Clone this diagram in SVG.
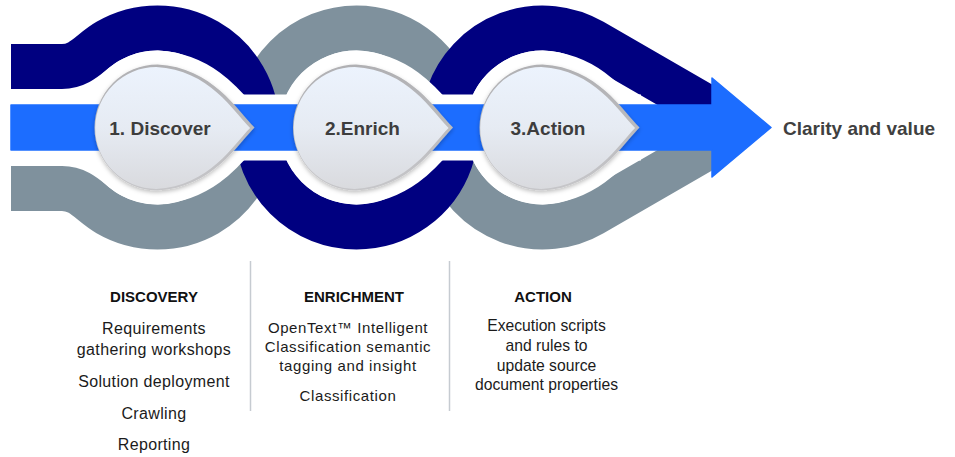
<svg xmlns="http://www.w3.org/2000/svg" xmlns:xlink="http://www.w3.org/1999/xlink" width="955" height="457" viewBox="0 0 955 457">
  <defs>
    <style>
      .navy { fill: none; stroke: #000080; stroke-width: 45; }
      .grey { fill: none; stroke: #7f919d; stroke-width: 45; }
      .halo { fill: #ffffff; stroke: #ffffff; stroke-width: 28; stroke-linejoin: round; }
      .rim { fill: url(#rimGrad); filter: url(#shadow); }
      .face { fill: url(#faceGrad); }
      .step { font-family: "Liberation Sans", Arial, sans-serif; font-weight: bold; font-size: 19px; fill: #3d3d3d; text-anchor: middle; }
      .goal { font-family: "Liberation Sans", Arial, sans-serif; font-weight: bold; font-size: 19px; fill: #404040; }
      .head { font-family: "Liberation Sans", Arial, sans-serif; font-weight: bold; font-size: 15px; fill: #111111; text-anchor: middle; }
      .body1 { font-family: "Liberation Sans", Arial, sans-serif; font-size: 16px; letter-spacing: 0.35px; fill: #1b1b1b; text-anchor: middle; }
      .body2 { font-family: "Liberation Sans", Arial, sans-serif; font-size: 15px; letter-spacing: 0.6px; fill: #1b1b1b; text-anchor: middle; }
      .body3 { font-family: "Liberation Sans", Arial, sans-serif; font-size: 15.7px; fill: #1b1b1b; text-anchor: middle; }
      .sep { stroke: #c6cbd1; stroke-width: 1.5; }
    </style>
    <linearGradient id="rimGrad" x1="0" y1="0" x2="0" y2="1">
      <stop offset="0" stop-color="#b0b0b3"/>
      <stop offset="1" stop-color="#c6c6c9"/>
    </linearGradient>
    <linearGradient id="faceGrad" x1="0" y1="0" x2="0" y2="1">
      <stop offset="0" stop-color="#ecf3fd"/>
      <stop offset="0.5" stop-color="#e6ebf3"/>
      <stop offset="1" stop-color="#d9dade"/>
    </linearGradient>
    <filter id="shadow" x="-20%" y="-20%" width="140%" height="150%">
      <feDropShadow dx="0" dy="2" stdDeviation="2" flood-color="#000000" flood-opacity="0.25"/>
    </filter>
    <path id="drop" d="M 97,0 C 80,-17 55,-60 0,-63 A 63 63 0 0 0 -63,0 A 63 63 0 0 0 0,63 C 55,60 80,17 97,0 Z"/>
  </defs>

  <rect x="0" y="0" width="955" height="457" fill="#ffffff"/>

  <g id="ribbons">
    <path class="grey" d="M 11,188.5 H 62 C 82,188.5 90.4,203.7 107.75,213.67 A 99.5 99.5 0 0 0 257,127.5 A 99.5 99.5 0 0 1 356.5,28 A 99.5 99.5 0 0 1 450.37,94.5 C 457,113.4 442,141.6 448.63,160.5 A 99.5 99.5 0 0 0 592.25,213.67 L 716,142.2"/>
    <path class="navy" d="M 11,66.5 H 62 C 82,66.5 90.4,51.3 107.75,41.33 A 99.5 99.5 0 0 1 257,127.5 A 99.5 99.5 0 0 0 356.5,227 A 99.5 99.5 0 0 0 450.37,160.5 C 457,141.6 442,113.4 448.63,94.5 A 99.5 99.5 0 0 1 592.25,41.33 L 716,112.8"/>
  </g>

  <g id="halos">
    <use xlink:href="#drop" href="#drop" class="halo" transform="translate(157.5,127.5)"/>
    <use xlink:href="#drop" href="#drop" class="halo" transform="translate(356,127.5)"/>
    <use xlink:href="#drop" href="#drop" class="halo" transform="translate(542.5,127.5)"/>
    <rect x="11" y="94.5" width="630" height="66" fill="#ffffff"/>
  </g>

  <g id="connectors">
    <path id="flow-arrow" d="M 11,105 H 712 V 78 L 771,127.5 L 712,177 V 150 H 11 Z" fill="#1c6dff" stroke="#1c6dff" stroke-width="1.5" stroke-linejoin="round"/>
    <line class="sep" x1="250.5" y1="261" x2="250.5" y2="411"/>
    <line class="sep" x1="449.5" y1="261" x2="449.5" y2="411"/>
  </g>

  <g id="step-discover">
    <use xlink:href="#drop" href="#drop" class="rim" transform="translate(157.5,127.5)"/>
    <use xlink:href="#drop" href="#drop" class="face" transform="translate(156.2,128) scale(0.968)"/>
    <text class="step" x="160" y="135">1. Discover</text>
  </g>

  <g id="step-enrich">
    <use xlink:href="#drop" href="#drop" class="rim" transform="translate(356,127.5)"/>
    <use xlink:href="#drop" href="#drop" class="face" transform="translate(354.7,128) scale(0.968)"/>
    <text class="step" x="362.5" y="135">2.Enrich</text>
  </g>

  <g id="step-action">
    <use xlink:href="#drop" href="#drop" class="rim" transform="translate(542.5,127.5)"/>
    <use xlink:href="#drop" href="#drop" class="face" transform="translate(541.2,128) scale(0.968)"/>
    <text class="step" x="548" y="135">3.Action</text>
  </g>

  <g id="goal">
    <text class="goal" x="783" y="135">Clarity and value</text>
  </g>

  <g id="col-discovery">
    <text class="head" x="154" y="302">DISCOVERY</text>
    <text class="body1" x="154" y="334">Requirements</text>
    <text class="body1" x="154" y="355">gathering workshops</text>
    <text class="body1" x="154" y="386.5">Solution deployment</text>
    <text class="body1" x="154" y="419">Crawling</text>
    <text class="body1" x="154" y="450">Reporting</text>
  </g>

  <g id="col-enrichment">
    <text class="head" x="354" y="302">ENRICHMENT</text>
    <text class="body2" x="348" y="332.5">OpenText™ Intelligent</text>
    <text class="body2" x="348" y="351.5">Classification semantic</text>
    <text class="body2" x="348" y="370.5">tagging and insight</text>
    <text class="body2" x="348" y="401">Classification</text>
  </g>

  <g id="col-action">
    <text class="head" x="543" y="302">ACTION</text>
    <text class="body3" x="546.5" y="331">Execution scripts</text>
    <text class="body3" x="546.5" y="351">and rules to</text>
    <text class="body3" x="546.5" y="370.5">update source</text>
    <text class="body3" x="546.5" y="390">document properties</text>
  </g>
</svg>
